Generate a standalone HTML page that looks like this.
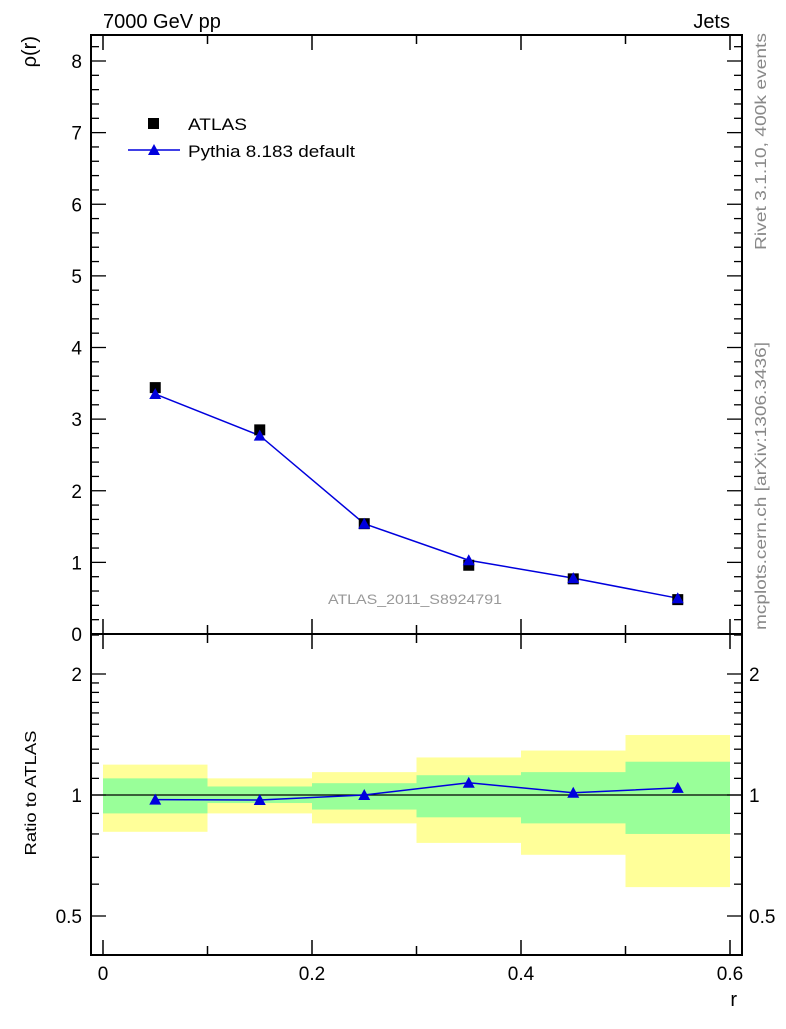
<!DOCTYPE html>
<html><head><meta charset="utf-8"><style>
body{margin:0;background:#fff;width:786px;height:1024px;overflow:hidden}
svg{font-family:"Liberation Sans",sans-serif}
</style></head><body>
<svg id="c" width="786" height="1024"></svg>
<script>
const rCenters=[0.05,0.15,0.25,0.35,0.45,0.55];
const atlasVals=[3.44,2.85,1.54,0.96,0.77,0.48];
const pythiaVals=[3.35,2.77,1.54,1.03,0.78,0.50];
const yellowHi=[1.19,1.10,1.14,1.24,1.29,1.41];
const yellowLo=[0.81,0.90,0.85,0.76,0.71,0.59];
const greenHi=[1.10,1.05,1.07,1.12,1.14,1.21];
const greenLo=[0.90,0.955,0.92,0.88,0.85,0.80];
const yTicks=[0,1,2,3,4,5,6,7,8];
const xTicks=[0,0.2,0.4,0.6];
const rTicks=[0.5,1,2];

const NS="http://www.w3.org/2000/svg";
const svg=document.getElementById('c');
const L=91,R=742,T=35,MB=634,B=955;
const X=v=>103+v*(730-103)/0.6;
const Y=v=>634-v*(634-61)/8;
const RY=v=>795-Math.log2(v)*121;
function el(tag,attrs,parent){const e=document.createElementNS(NS,tag);for(const k in attrs)e.setAttribute(k,attrs[k]);(parent||svg).appendChild(e);return e;}
function txt(s,attrs,name){const e=el('text',attrs);e.textContent=s;


return e;}

for(let i=0;i<rCenters.length;i++){
  const x0=X(rCenters[i]-0.05),x1=X(rCenters[i]+0.05);
  const y=el('rect',{x:x0,y:RY(yellowHi[i]),width:x1-x0,height:RY(yellowLo[i])-RY(yellowHi[i]),fill:'#ffff99'});
  
  
  const g=el('rect',{x:x0,y:RY(greenHi[i]),width:x1-x0,height:RY(greenLo[i])-RY(greenHi[i]),fill:'#99ff99'});
  
  
}
el('line',{x1:L,x2:R,y1:RY(1),y2:RY(1),stroke:'#000','stroke-width':1.2});

const f1=el('rect',{x:L,y:T,width:R-L,height:MB-T,fill:'none',stroke:'#000','stroke-width':2});

const f2=el('rect',{x:L,y:MB,width:R-L,height:B-MB,fill:'none',stroke:'#000','stroke-width':2});


for(let v=0;v<=0.6001;v+=0.1){
  const major=Math.abs(v*10%2)<0.01;
  const len=major?15:9;
  [MB,B].forEach(yb=>{el('line',{x1:X(v),x2:X(v),y1:yb,y2:yb-len,stroke:'#000','stroke-width':1.5});});
  [T,MB].forEach(yt=>{el('line',{x1:X(v),x2:X(v),y1:yt,y2:yt+len,stroke:'#000','stroke-width':1.5});});
}
xTicks.forEach(v=>txt(String(v),{x:X(v),y:980,'font-size':19,'text-anchor':'middle'},'x-tick-label'));
txt('r',{x:737,y:1006,'font-size':20,'text-anchor':'end'},'x-axis-title');

for(let v=0;v<=8.3;v+=0.2){
  const major=Math.abs(v-Math.round(v))<0.01;const len=major?15:8;
  el('line',{x1:L,x2:L+len,y1:Y(v),y2:Y(v),stroke:'#000','stroke-width':1.3});
  el('line',{x1:R,x2:R-len,y1:Y(v),y2:Y(v),stroke:'#000','stroke-width':1.3});
}
yTicks.forEach(v=>txt(String(v),{x:82,y:Y(v)+7,'font-size':19,'text-anchor':'end'},'y-tick-label'));
txt('ρ(r)',{x:0,y:0,'font-size':20,'text-anchor':'end',transform:'translate(36,36) rotate(-90)'},'y-axis-title');

const rMinor=[0.4,0.5,0.6,0.7,0.8,0.9,1,1.1,1.2,1.3,1.4,1.5,1.6,1.7,1.8,1.9,2,2.5];
rMinor.forEach(v=>{const major=rTicks.includes(v);const len=major?15:8;const y=RY(v);if(y<MB||y>B)return;
  el('line',{x1:L,x2:L+len,y1:y,y2:y,stroke:'#000','stroke-width':1.3});
  el('line',{x1:R,x2:R-len,y1:y,y2:y,stroke:'#000','stroke-width':1.3});});
rTicks.forEach(v=>{txt(String(v),{x:82,y:RY(v)+7,'font-size':19,'text-anchor':'end'},'ratio-tick-label');
  txt(String(v),{x:749,y:RY(v)+7,'font-size':19},'ratio-tick-label-right');});
txt('Ratio to ATLAS',{x:0,y:0,'font-size':16,'text-anchor':'middle',textLength:125,lengthAdjust:'spacingAndGlyphs',transform:'translate(36,793) rotate(-90)'},'ratio-axis-title');

const pp=rCenters.map((r,i)=>X(r)+','+Y(pythiaVals[i])).join(' ');
const pl=el('polyline',{points:pp,fill:'none',stroke:'#0000dd','stroke-width':1.5});

rCenters.forEach((r,i)=>{
  const s=el('rect',{x:X(r)-5.5,y:Y(atlasVals[i])-5.5,width:11,height:11,fill:'#000'});
  
});
function tri(x,y,name){const t=el('polygon',{points:`${x-6},${y+5} ${x+6},${y+5} ${x},${y-6}`,fill:'#0000dd'});
  }
rCenters.forEach((r,i)=>tri(X(r),Y(pythiaVals[i]),'pythia-point'));

const ratios=rCenters.map((r,i)=>pythiaVals[i]/atlasVals[i]);
const rl=el('polyline',{points:rCenters.map((r,i)=>X(r)+','+RY(ratios[i])).join(' '),fill:'none',stroke:'#0000dd','stroke-width':1.5});

rCenters.forEach((r,i)=>tri(X(r),RY(ratios[i]),'ratio-point'));

const ls=el('rect',{x:148,y:118,width:11,height:11,fill:'#000'});

txt('ATLAS',{x:188,y:130,'font-size':17,textLength:59,lengthAdjust:'spacingAndGlyphs'},'legend-atlas');
el('line',{x1:128,x2:180,y1:150,y2:150,stroke:'#0000dd','stroke-width':1.5});
tri(154,150,'legend-pythia-marker');
txt('Pythia 8.183 default',{x:188,y:157,'font-size':17,textLength:167,lengthAdjust:'spacingAndGlyphs'},'legend-pythia');

txt('7000 GeV pp',{x:103,y:28,'font-size':20},'title-left');
txt('Jets',{x:730,y:28,'font-size':20,'text-anchor':'end'},'title-right');
txt('ATLAS_2011_S8924791',{x:328,y:604,'font-size':14,fill:'#999',textLength:174,lengthAdjust:'spacingAndGlyphs'},'analysis-label');
txt('Rivet 3.1.10,  400k events',{x:0,y:0,'font-size':16,fill:'#888','text-anchor':'end',textLength:217,lengthAdjust:'spacingAndGlyphs',transform:'translate(766,33) rotate(-90)'},'rivet-label');
txt('mcplots.cern.ch [arXiv:1306.3436]',{x:0,y:0,'font-size':16,fill:'#888','text-anchor':'end',textLength:288,lengthAdjust:'spacingAndGlyphs',transform:'translate(766,342) rotate(-90)'},'mcplots-label');
</script>
</body></html>
